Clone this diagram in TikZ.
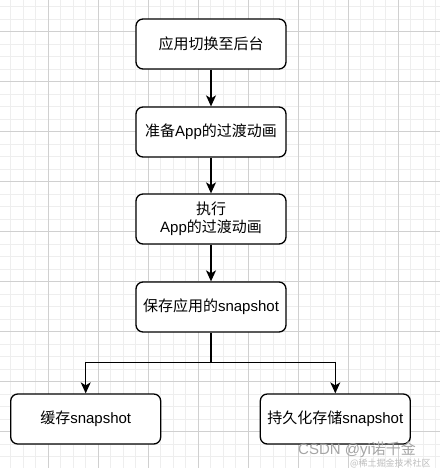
\documentclass[tikz,border=0pt]{standalone}
\usepackage{fontspec}
\setmainfont{Liberation Sans}
\newfontfamily\cjk{Noto Sans CJK SC}
\usetikzlibrary{arrows.meta}
\definecolor{gridmajor}{RGB}{208,208,208}
\definecolor{gridminor}{RGB}{238,238,238}
\definecolor{wmgray}{RGB}{165,165,165}
\definecolor{wmlight}{RGB}{190,190,190}
\tikzset{
  stepbox/.style={draw=black, rounded corners=7pt, line width=1.3pt, fill=white,
    minimum width=150pt, minimum height=50pt, inner sep=0pt, align=center,
    font=\fontsize{15}{18}\selectfont},
  conn/.style={line width=1.3pt, -{Stealth[length=11pt,width=10pt,inset=3pt]}},
  plainline/.style={line width=1.3pt},
}
\begin{document}
\begin{tikzpicture}[x=1pt,y=-1pt]
\useasboundingbox (0,0) rectangle (440,468);
\fill[white] (0,0) rectangle (440,468);
\begin{scope}
\clip (0,0) rectangle (440,468);
\foreach \i in {0,...,36} {
  \draw[gridminor, line width=0.8pt] ({10.8+12.5*\i},0) -- ({10.8+12.5*\i},468);
  \draw[gridminor, line width=0.8pt] (0,{6.7+12.5*\i}) -- (440,{6.7+12.5*\i});
}
\foreach \i in {0,...,9} {
  \draw[gridmajor, line width=0.8pt] ({-1.7+50*\i},0) -- ({-1.7+50*\i},468);
  \draw[gridmajor, line width=0.8pt] (0,{-18.3+50*\i}) -- (440,{-18.3+50*\i});
}
\end{scope}

\node[stepbox] (s1) at (211,44) {\cjk 应用切换至后台};
\node[stepbox] (s2) at (211,132) {{\cjk 准备}App{\cjk 的过渡动画}};
\node[stepbox] (s3) at (211,219) {{\cjk 执行}\\App{\cjk 的过渡动画}};
\node[stepbox] (s4) at (211,307) {{\cjk 保存应用的}snapshot};
\node[stepbox] (s5) at (85.7,419) {{\cjk 缓存}snapshot};
\node[stepbox] (s6) at (335.3,419) {{\cjk 持久化存储}snapshot};

\coordinate (branch) at (211,362.7);
\draw[conn] (s1) -- (s2);
\draw[conn] (s2) -- (s3);
\draw[conn] (s3) -- (s4);
\draw[plainline] (s4.south) -- (branch);
\draw[conn] (branch) -| (s5.north);
\draw[conn] (branch) -| (s6.north);

\node[anchor=base west, inner sep=0pt, text=wmgray, font=\fontsize{15}{15}\selectfont] (wm1) at (298,454) {CSDN @yi{\cjk 诺千金}};
\node[anchor=base west, inner sep=0pt, text=wmlight, font=\fontsize{9}{9}\selectfont] (wm2) at (350,466) {\cjk @稀土掘金技术社区};
\end{tikzpicture}
\end{document}
